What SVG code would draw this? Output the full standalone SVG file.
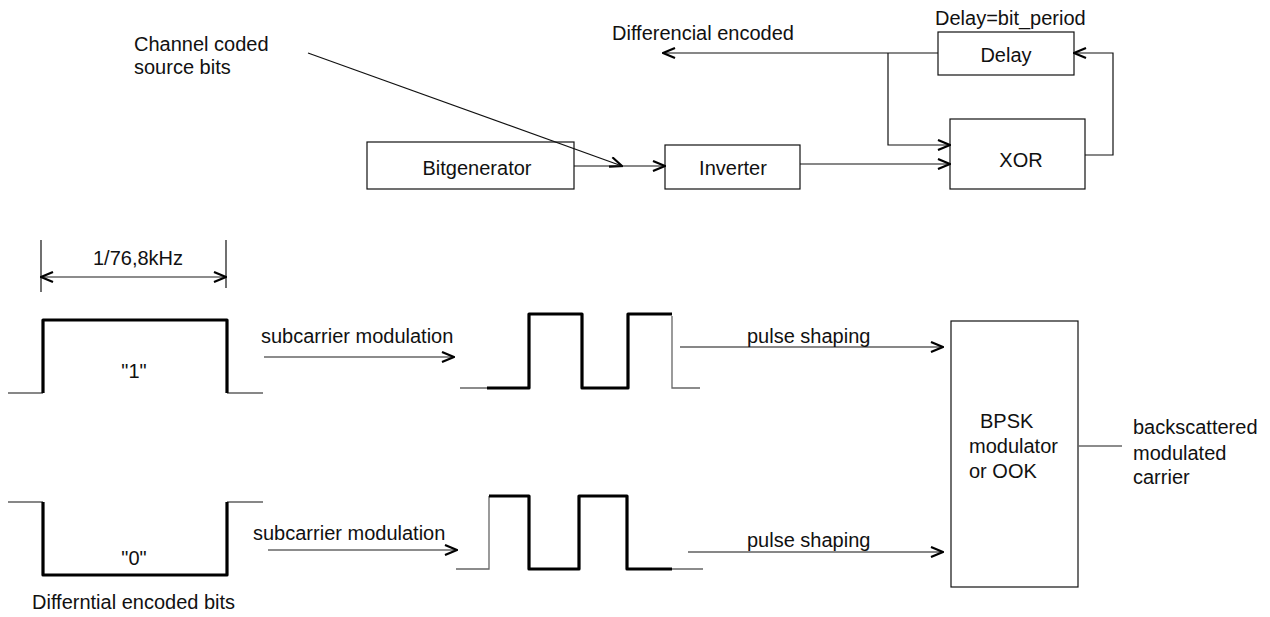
<svg xmlns="http://www.w3.org/2000/svg" width="1270" height="617" viewBox="0 0 1270 617">
<style>
text{font-family:"Liberation Sans",Arial,sans-serif;font-size:20px;fill:#111}
.box{fill:#fff;stroke:#111;stroke-width:1.2}
.ln{fill:none;stroke:#111;stroke-width:1.2}
.gl{fill:none;stroke:#666;stroke-width:1.3}
.wv{fill:none;stroke:#000;stroke-width:3.2;stroke-linejoin:round}
.mid{text-anchor:middle}
</style>
<defs>
<marker id="ah" viewBox="0 0 14 12" markerWidth="14" markerHeight="12" refX="13" refY="6" orient="auto-start-reverse" markerUnits="userSpaceOnUse">
<path d="M1,1 L13,6 L1,11" fill="none" stroke="#000" stroke-width="2.2"/>
</marker>
</defs>
<g id="labels">
<text x="134" y="51">Channel coded</text>
<text x="134" y="74">source bits</text>
<text x="612" y="40">Differencial encoded</text>
<text x="935" y="25">Delay=bit_period</text>
<text x="138" y="265" class="mid">1/76,8kHz</text>
<text x="261" y="343">subcarrier modulation</text>
<text x="253" y="540">subcarrier modulation</text>
<text x="747" y="343">pulse shaping</text>
<text x="747" y="547">pulse shaping</text>
<text x="1133" y="434">backscattered</text>
<text x="1133" y="460">modulated</text>
<text x="1133" y="484">carrier</text>
<text x="32" y="609">Differntial encoded bits</text>
</g>
<g id="bitgenerator"><rect class="box" x="367" y="142" width="207" height="47"/><text x="477" y="175" class="mid">Bitgenerator</text></g>
<g id="inverter"><rect class="box" x="665" y="145" width="135" height="44"/><text x="733" y="175" class="mid">Inverter</text></g>
<g id="xor"><rect class="box" x="950" y="119" width="135" height="70"/><text x="1021" y="167" class="mid">XOR</text></g>
<g id="delay"><rect class="box" x="938" y="32" width="136" height="43"/><text x="1006" y="62" class="mid">Delay</text></g>
<g id="bpsk"><rect class="box" x="951" y="321" width="127" height="266"/>
<text x="980" y="428">BPSK</text><text x="969" y="453">modulator</text><text x="969" y="478">or OOK</text></g>
<g id="wave-one">
<path class="ln" d="M8,393 H43 M227,393 H263"/>
<path class="wv" d="M43,393 V320 H227 V393"/>
<text x="134" y="378" class="mid">"1"</text>
</g>
<g id="wave-zero">
<path class="ln" d="M8,502 H43 M227,502 H263"/>
<path class="wv" d="M43,502 V575 H227 V502"/>
<text x="134" y="565" class="mid">"0"</text>
</g>
<g id="subcarrier-one">
<path class="gl" d="M460,388 H487 M672,316 V388 H700"/>
<path class="wv" d="M487,388 H529 V314 H582 V388 H628 V314 H672"/>
</g>
<g id="subcarrier-zero">
<path class="gl" d="M456,569 H489 V496 M672,569 H703"/>
<path class="wv" d="M489,496 H529 V569 H579 V496 H627 V569 H672"/>
</g>
<g id="connectors">
<line class="ln" x1="41" y1="240" x2="41" y2="292"/>
<line class="ln" x1="226" y1="240" x2="226" y2="288"/>
<line class="gl" x1="41" y1="277" x2="226" y2="277" marker-start="url(#ah)" marker-end="url(#ah)"/>
<line class="ln" x1="308" y1="53" x2="622" y2="166" marker-end="url(#ah)"/>
<line class="ln" x1="574" y1="166" x2="665" y2="166" marker-end="url(#ah)"/>
<line class="ln" x1="800" y1="164" x2="950" y2="164" marker-end="url(#ah)"/>
<path class="ln" d="M938,53 H663" marker-end="url(#ah)"/>
<path class="ln" d="M888,53 V145 H950" marker-end="url(#ah)"/>
<path class="ln" d="M1085,155 H1113 V53 H1074" marker-end="url(#ah)"/>
<line class="gl" x1="264" y1="357" x2="454" y2="357" marker-end="url(#ah)"/>
<line class="gl" x1="268" y1="550" x2="457" y2="550" marker-end="url(#ah)"/>
<line class="ln" x1="680" y1="347" x2="943" y2="347" marker-end="url(#ah)"/>
<line class="ln" x1="688" y1="552" x2="943" y2="552" marker-end="url(#ah)"/>
<line class="gl" x1="1078" y1="446" x2="1122" y2="446"/>
</g>
</svg>
